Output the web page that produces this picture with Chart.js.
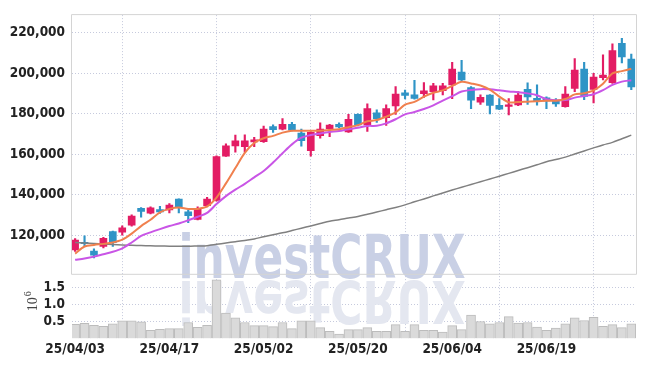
<!DOCTYPE html>
<html>
<head>
<meta charset="utf-8">
<script src="https://cdn.jsdelivr.net/npm/chart.js@4.4.1/dist/chart.umd.min.js"></script>
<style>
html,body{margin:0;padding:0;background:#fff;}
#wrap{width:645px;height:366px;}
</style>
</head>
<body>
<div id="wrap"><canvas id="c" width="645" height="366"></canvas></div>
<script>
// ---- data ----
const dates = [
 '25/04/03','25/04/04','25/04/07','25/04/08','25/04/09','25/04/10','25/04/11','25/04/14','25/04/15','25/04/16',
 '25/04/17','25/04/18','25/04/21','25/04/22','25/04/23','25/04/24','25/04/25','25/04/28','25/04/29','25/04/30',
 '25/05/02','25/05/07','25/05/08','25/05/09','25/05/12','25/05/13','25/05/14','25/05/15','25/05/16','25/05/19',
 '25/05/20','25/05/21','25/05/22','25/05/23','25/05/26','25/05/27','25/05/28','25/05/29','25/05/30','25/06/02',
 '25/06/04','25/06/05','25/06/09','25/06/10','25/06/11','25/06/12','25/06/13','25/06/16','25/06/17','25/06/18',
 '25/06/19','25/06/20','25/06/23','25/06/24','25/06/25','25/06/26','25/06/27','25/06/30','25/07/01','25/07/02'
];
const tickIndexes = [0,10,20,30,40,50];
const priceTicks = [120000,140000,160000,180000,200000,220000];
const volumeTicks = [500000,1000000,1500000];

const opens  = [112700,116500,112100,114500,121800,121500,124900,133300,130900,132700,
                132500,137900,131500,127800,134600,137200,159100,164100,163700,166100,
                166200,173700,172400,174800,170500,161800,169200,172700,174800,171100,
                179700,174500,180500,178100,183900,190400,189400,189900,191000,191500,
                194300,200600,193000,185700,189200,184200,183700,184400,192100,187600,
                187900,186500,183500,192500,202100,192000,197900,195400,214900,207000];
const highs  = [118300,119700,113200,118900,122000,124600,130100,133600,134000,134300,
                135600,138000,132400,134000,138700,159200,165100,169500,169600,168400,
                173900,174500,177600,175800,172400,171200,175500,174800,175500,179700,
                180000,184900,182000,184400,193500,191700,196600,195400,195100,195100,
                205400,206500,193500,189400,189500,187500,187500,191000,195300,194300,
                188400,187500,193500,207300,205400,200000,209200,214600,217300,209500];
const lows   = [112000,114500,108700,113700,114500,120000,124500,128900,130500,130700,
                131000,131000,126200,127500,134000,136800,158900,161100,161100,163800,
                165800,170800,172000,171600,164000,159100,168000,168700,173200,170800,
                174000,171300,175700,174300,179700,187400,187200,188100,186900,189400,
                187500,196200,182600,184600,180000,182000,179400,184000,184600,184300,
                182500,183600,183300,191000,187000,185400,196700,195000,205200,191900];
const closes = [117600,115800,110100,118400,116300,123600,129400,131700,133500,131500,
                134900,134100,129700,133300,137900,158900,164200,166600,166600,167100,
                172400,172100,174800,171900,166700,170800,172400,174400,173500,177300,
                174500,182600,177600,182600,189800,189100,187600,191400,193800,193800,
                202100,196700,186700,188100,184200,182300,184400,189200,188300,186400,
                186400,184900,189800,201600,188600,198200,199200,211300,208100,193300];
const volumes = [414000,443000,386000,357000,434000,520000,520000,490000,243000,271000,
                 290000,290000,471000,329000,386000,1720000,749000,606000,471000,377000,
                 377000,349000,471000,290000,520000,520000,320000,214000,129000,263000,
                 263000,320000,214000,214000,406000,214000,406000,243000,243000,186000,
                 377000,263000,691000,500000,434000,471000,643000,451000,471000,337000,
                 243000,309000,434000,606000,529000,623000,357000,406000,320000,434000];
const ma5  = [110900,114400,115200,115700,116400,117800,120800,124500,127600,131300,
              133000,133700,133000,133000,134200,138600,145600,153200,160700,165600,
              167900,169100,170700,171600,171600,171600,171600,172000,172400,173400,
              174400,176300,176900,178600,180700,184500,185900,188500,190400,191600,
              193800,195800,195000,194000,192000,188500,185700,185800,186000,186200,
              186500,186500,187300,189600,190200,191600,194900,200000,201100,202300];
const ma20 = [107800,108500,109400,110600,111800,113500,116400,119600,121400,123000,
              124500,125800,127400,129100,131000,135400,139300,142500,145400,148600,
              151700,155900,160500,164900,168200,169500,170300,171000,171500,172400,
              173100,174000,174100,175300,177300,179700,180900,182400,184200,186500,
              188700,191000,191800,192200,192100,191600,191000,190700,190100,189200,
              187200,186700,186800,188000,188800,189700,191700,194300,195900,196600];
const ma120 = [116350,116160,115910,115620,115380,115180,114990,114840,114740,114650,
               114550,114500,114500,114650,114790,115470,116160,116790,117420,118150,
               119220,120190,121170,122290,123450,124570,125740,126910,127640,128470,
               129250,130320,131440,132600,133720,134990,136500,137910,139420,140880,
               142340,143700,145060,146420,147780,149150,150560,151970,153380,154790,
               156300,157420,158590,160140,161650,163160,164620,165890,167640,169440];

// ---- styles ----
const UP = '#e31c64', DOWN = '#2f94c6';
const GRID = '#c6cadd';
const FONT = '"DejaVu Sans Condensed", "Liberation Sans", sans-serif';
const WMFONT = '"DejaVu Sans Condensed", "Liberation Sans", sans-serif';
const candleColors = opens.map((o,i) => closes[i] >= o ? UP : DOWN);
const idx = dates.map((d,i) => i);

const xy = arr => arr.map((v,i) => ({x:i, y:v}));

const watermark = {
  id:'wm',
  beforeDatasetsDraw(chart){
    const {ctx, chartArea:a} = chart;
    const w = a.right - a.left;
    ctx.save();
    ctx.beginPath(); ctx.rect(a.left, a.top, w, a.bottom - a.top); ctx.clip();
    const text = 'investCRUX';
    ctx.font = 'bold 61px ' + WMFONT;
    const tw = ctx.measureText(text).width;
    const target = w * 0.509;
    const sx = target / tw;
    const bx = a.left + w * 0.189;
    const by = chart.scales.y.bottom + 4;
    ctx.translate(bx, by);
    ctx.scale(sx, 1);
    ctx.fillStyle = '#c9d0e5';
    ctx.textBaseline = 'alphabetic';
    ctx.fillText(text, 0, 0);
    ctx.scale(1, -0.95);
    ctx.fillStyle = '#e4e7f0';
    ctx.fillText(text, 0, -3);
    ctx.restore();
  }
};

const frame = {
  id:'frame',
  beforeDatasetsDraw(chart){
    const {ctx, chartArea:a} = chart;
    const ys = chart.scales.y;
    ctx.save();
    ctx.strokeStyle = '#d4d4d4';
    ctx.lineWidth = 1;
    ctx.beginPath();
    ctx.moveTo(a.left - 0.5, ys.bottom + 0.5);
    ctx.lineTo(a.left - 0.5, a.top - 0.5);
    ctx.lineTo(a.right + 0.5, a.top - 0.5);
    ctx.lineTo(a.right + 0.5, ys.bottom + 0.5);
    ctx.moveTo(a.left - 0.5, ys.bottom + 0.5);
    ctx.lineTo(a.right + 0.5, ys.bottom + 0.5);
    ctx.stroke();
    ctx.restore();
  },
  afterDraw(chart){
    const {ctx} = chart;
    const yv = chart.scales.yv;
    const cy = (yv.top + yv.bottom) / 2;
    ctx.save();
    ctx.translate(37, cy + 5);
    ctx.rotate(-Math.PI / 2);
    ctx.fillStyle = '#444';
    ctx.font = '14px "Liberation Serif", serif';
    ctx.textBaseline = 'alphabetic';
    ctx.fillText('10', 0, 0);
    const w = ctx.measureText('10').width;
    ctx.font = '10px "Liberation Serif", serif';
    ctx.fillText('6', w + 1, -6);
    ctx.restore();
  }
};

const tickFont = { family:FONT, size:13.5, weight:'bold' };

new Chart(document.getElementById('c'), {
  type: 'bar',
  data: {
    datasets: [
      { type:'line', label:'MA5', data: xy(ma5), xAxisID:'x', yAxisID:'y',
        borderColor:'#f0804e', borderWidth:2, pointRadius:0, tension:0.3, order:0 },
      { type:'line', label:'MA20', data: xy(ma20), xAxisID:'x', yAxisID:'y',
        borderColor:'#c955e6', borderWidth:2, pointRadius:0, tension:0.3, order:0 },
      { type:'line', label:'MA120', data: xy(ma120), xAxisID:'x', yAxisID:'y',
        borderColor:'#808080', borderWidth:1.5, pointRadius:0, tension:0.3, order:0 },
      { label:'body', data: idx.map(i => ({x:i, y:[opens[i], closes[i]]})), xAxisID:'x', yAxisID:'y',
        backgroundColor: candleColors, borderWidth:0, barThickness:7, grouped:false, order:1 },
      { label:'wick', data: idx.map(i => ({x:i, y:[lows[i], highs[i]]})), xAxisID:'x', yAxisID:'y',
        backgroundColor: candleColors, borderWidth:0, barThickness:1.5, grouped:false, order:2 },
      { label:'volume', data: xy(volumes), xAxisID:'x', yAxisID:'yv',
        backgroundColor:'#dadada', borderColor:'#bcbcbc', borderWidth:1, barThickness:9, grouped:false, order:3 }
    ]
  },
  options: {
    responsive:false, animation:false,
    layout:{ padding:{ top:9, right:9, left:0, bottom:0 } },
    plugins:{ legend:{display:false}, tooltip:{enabled:false} },
    scales:{
      x:{ type:'linear', min:-0.33, max:59.5, offset:false,
          afterBuildTicks: s => { s.ticks = tickIndexes.map(v => ({value:v})); },
          afterFit: s => { s.height = 27.5; },
          ticks:{ callback: v => dates[v], color:'#222', padding:3, maxRotation:0, autoSkip:false,
                  font:tickFont },
          grid:{ color:GRID, drawTicks:false, borderDash:[1,2] },
          border:{ display:false, dash:[1,2] } },
      yv:{ type:'linear', position:'left', stack:'panes', stackWeight:1, min:0, max:1900000,
           afterBuildTicks: s => { s.ticks = volumeTicks.map(v => ({value:v})); },
           afterFit: s => { s.width = 72; },
           ticks:{ callback: v => (v/1e6).toFixed(1), color:'#222', padding:7, autoSkip:false,
                   font:tickFont },
           grid:{ color:GRID, drawTicks:false, borderDash:[1,2] },
           border:{ display:false, dash:[1,2] } },
      y:{ type:'linear', position:'left', stack:'panes', stackWeight:4, min:100900, max:228800,
          afterBuildTicks: s => { s.ticks = priceTicks.map(v => ({value:v})); },
          afterFit: s => { s.width = 72; },
          ticks:{ callback: v => v.toLocaleString('en-US'), color:'#222', padding:7, autoSkip:false,
                  font:tickFont },
          grid:{ color:GRID, drawTicks:false, borderDash:[1,2] },
          border:{ display:false, dash:[1,2] } }
    }
  },
  plugins:[watermark, frame]
});
</script>
</body>
</html>
